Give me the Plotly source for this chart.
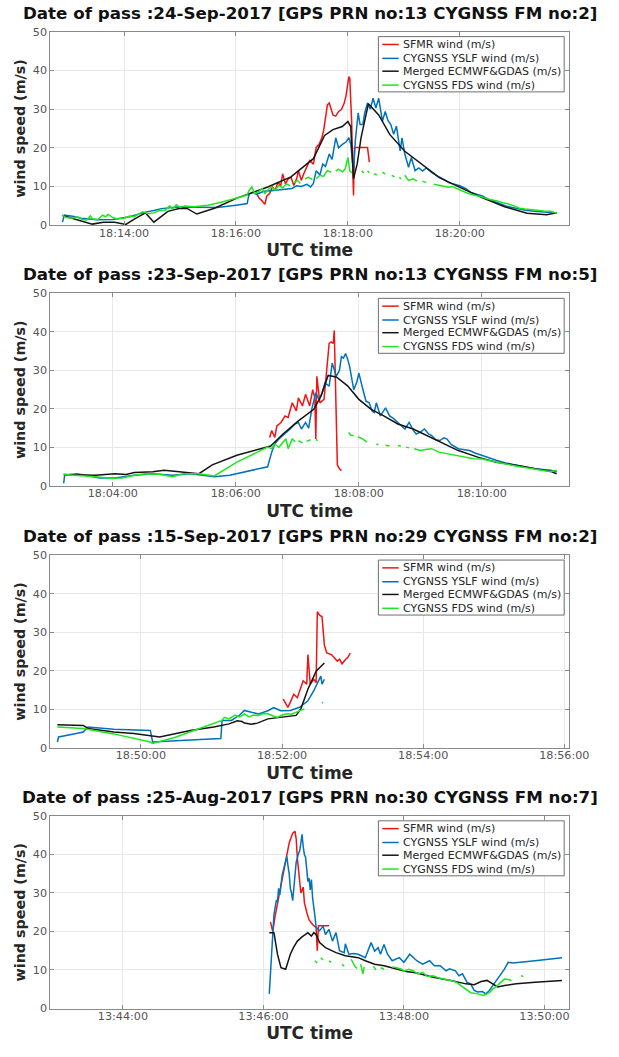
import pandas as pd
import plotly.graph_objects as go

FONT = "DejaVu Sans, Verdana, sans-serif"
RED, BLUE, BLACK, GREEN = "#f01414", "#0072bd", "#141414", "#1ee61e"
SERIES_NAMES = ["SFMR wind (m/s)", "CYGNSS YSLF wind (m/s)",
                "Merged ECMWF&GDAS (m/s)", "CYGNSS FDS wind (m/s)"]
SERIES_COLORS = [RED, BLUE, BLACK, GREEN]

# ---------------- Pass 1: 24-Sep-2017, times in s after 18:12:00 ----------------
p1_base = "2017-09-24 18:12:00"
p1_title = "Date of pass :24-Sep-2017 [GPS PRN no:13 CYGNSS FM no:2]"
p1_xlim = [41, 597]
p1_sfmr_t = [262, 265, 268, 271, 273, 276, 279, 282, 285, 288, 290, 293, 296, 299, 302, 305, 307,
             310, 313, 316, 319, 323, 326, 329, 332, 334, 336, 338, 340, 342, 344, 347, 350, 353,
             356, 358, 360, 361, 362, 363, 364, 365, 366, 367, 381, 383]
p1_sfmr_v = [8.2, 7.0, 6.3, 5.4, 7.5, 8.2, 9.9, 9.0, 11.1, 10.2, 13.3, 10.7, 12.0, 12.4, 10.3, 12.0,
             14.1, 11.6, 13.5, 15.0, 16.7, 15.8, 20.1, 20.9, 22.5, 24.5, 28.5, 31.1, 31.6, 30.0, 28.5,
             28.2, 29.4, 29.9, 31.5, 33.5, 37.0, 38.4, 37.9, 33.0, 26.9, 16.0, 7.7, 20.1, 20.1, 16.3]
p1_yslf_t = [54, 56, 65, 74, 91, 108, 126, 143, 152, 160, 178, 200, 220, 240, 252, 254, 258, 262,
             270, 280, 290, 300, 305, 310, 316, 320, 323, 326, 330, 333, 336, 340, 343, 347, 350,
             354, 358, 361, 363, 365, 366, 368, 371, 373, 376, 378, 381, 384, 387, 390, 393, 397,
             400, 403, 406, 409, 412, 416, 418, 421, 425, 428, 432, 436, 440, 444, 450, 456, 462,
             468, 474, 480, 486, 492, 498, 504, 510, 516, 522, 530, 540, 550, 560, 572, 584]
p1_yslf_v = [0.8, 2.6, 2.3, 1.8, 1.4, 1.5, 2.2, 3.4, 3.8, 4.3, 4.7, 4.6, 4.6, 5.2, 5.6, 8.0, 8.5,
             8.0, 8.8, 9.0, 9.3, 9.5, 10.2, 10.0, 10.6, 9.9, 10.8, 14.1, 13.0, 15.8, 15.2, 18.4,
             17.0, 22.6, 20.0, 20.9, 21.5, 22.6, 21.0, 17.0, 14.0, 22.0, 29.0, 26.0, 26.0, 29.0,
             31.6, 30.0, 32.8, 30.3, 32.8, 26.9, 29.4, 27.0, 26.0, 23.5, 25.6, 19.2, 22.6, 18.4,
             15.0, 17.5, 14.1, 14.8, 14.0, 14.8, 13.6, 12.7, 12.0, 11.0, 10.6, 10.2, 9.5, 8.5, 8.0,
             7.6, 6.8, 6.2, 5.5, 4.9, 4.4, 3.9, 3.6, 3.4, 3.2]
p1_model_t = [54, 69, 86, 98, 110, 122, 131, 143, 152, 167, 180, 188, 198, 217, 241, 274, 299,
              323, 335, 344, 350, 354, 360, 363, 366, 370, 374, 382, 393, 405, 421, 438, 458, 479,
              503, 528, 552, 573, 584]
p1_model_v = [2.5, 1.4, 0.3, 0.8, 0.8, 0.2, 1.6, 3.2, 0.8, 3.6, 4.4, 4.3, 2.9, 4.4, 7.0, 9.9, 12.5,
              17.2, 23.2, 24.7, 25.3, 25.5, 26.8, 25.5, 12.0, 15.9, 22.5, 31.4, 28.5, 23.4, 19.1,
              15.9, 12.3, 9.9, 7.2, 4.8, 3.1, 2.7, 3.2]
p1_fds_t = [54, 58, 64, 70, 75, 80, 84, 86, 92, 97, 100, 103, 108, 113, 120, 126, 131, 136, 140,
            146, 152, 158, 164, 169, 172, 176, 180, 185, 195, 210, 225, 240, 252, 254, 257, 260,
            264, 268, 271, 275, 278, 282, 286, 290, 294, 298, None,
            302, 306, 309, None, 314, 318, 322, None, 326, 330, 334, 338, 342, None,
            347, 350, 354, 357, 360, 362, 364, None, 375, 377, None, 381, 383, None, 388, 391, None,
            397, 400, None, 407, 410, None, 415, 417, None, 421, 425, 430, 434, None, 440, 444, None,
            452, 456, 462, 468, 472, 478, 482, 487, 492, 499, 505, 511, 516, 520, 526, 532, 538,
            544, 550, 556, 562, 570, 577, 584]
p1_fds_v = [2.6, 2.0, 1.8, 2.2, 1.5, 1.4, 2.4, 1.7, 1.5, 2.6, 2.2, 2.8, 2.0, 1.6, 1.8, 2.4, 2.2,
            2.9, 3.5, 3.0, 3.2, 3.8, 3.9, 5.0, 4.2, 5.3, 4.6, 5.0, 4.8, 5.2, 6.0, 7.0, 7.8, 9.0, 9.9,
            8.2, 8.6, 9.5, 8.2, 9.3, 9.9, 9.0, 10.3, 9.6, 10.7, 10.2, None,
            11.0, 11.6, 10.8, None, 12.0, 12.4, 11.8, None, 12.0, 12.9, 12.6, 14.1, 13.7, None,
            14.0, 14.5, 13.8, 14.5, 17.5, 14.1, 13.5, None, 14.1, 13.5, None, 14.0, 13.6, None,
            13.3, 13.0, None, 13.7, 13.2, None, 12.9, 12.5, None, 12.4, 12.0, None, 12.9, 11.6,
            12.0, 11.4, None, 11.4, 11.0, None,
            10.6, 10.4, 10.2, 9.8, 10.0, 9.3, 8.8, 8.4, 8.0, 7.6, 7.2, 6.7, 6.5, 6.3, 5.8, 5.5, 5.0,
            4.4, 4.2, 4.0, 3.9, 3.7, 3.6, 3.1]

# ---------------- Pass 2: 23-Sep-2017, times in s after 18:02:00 ----------------
p2_base = "2017-09-23 18:02:00"
p2_title = "Date of pass :23-Sep-2017 [GPS PRN no:13 CYGNSS FM no:5]"
p2_xlim = [59, 565]
p2_sfmr_t = [273, 275, 278, 280, 284, 288, 291, 295, 299, 301, 305, 308, 312, 315, 317, 318, 319,
             322, 326, 329, 331, 333, 335, 336, 339, 341, 343]
p2_sfmr_v = [12.6, 14.4, 12.6, 15.6, 16.5, 18.2, 17.8, 21.6, 19.5, 22.9, 20.8, 23.8, 20.8, 25.0,
             22.9, 12.2, 28.5, 21.6, 22.5, 30.2, 37.0, 37.4, 37.0, 40.4, 5.5, 4.5, 4.0]
p2_yslf_t = [72, 73, 85, 96, 107, 122, 141, 159, 178, 196, 211, 219, 234, 271, 275, 278, 282, 286,
             290, 293, 297, 301, 304, 308, 311, 314, 318, 321, 324, 327, 331, 334, 338, 341, 343,
             345, 347, 349, 351, 355, 358, 360, 364, 367, 370, 373, 375, 377, 381, 386, 390, 394,
             398, 402, 405, 409, 413, 416, 420, 424, 428, 431, 435, 439, 443, 446, 450, 457, 463,
             468, 474, 480, 487, 494, 503, 513, 522, 532, 540, 547, 553]
p2_yslf_v = [0.7, 2.8, 3.2, 2.6, 2.1, 2.1, 2.8, 3.2, 2.8, 3.2, 2.8, 2.4, 2.8, 5.0, 8.8, 11.0, 12.2,
             13.1, 14.0, 14.8, 16.0, 16.5, 14.8, 16.5, 15.0, 19.9, 24.2, 22.5, 24.0, 26.8, 25.9,
             31.9, 28.5, 30.0, 33.6, 33.2, 34.4, 33.0, 31.0, 25.0, 27.0, 29.3, 25.0, 22.0, 21.6,
             19.5, 19.1, 21.6, 18.2, 20.3, 18.2, 17.5, 16.5, 15.5, 14.8, 16.5, 14.5, 13.5, 14.0,
             14.8, 13.5, 13.1, 12.0, 11.8, 12.5, 12.2, 10.8, 9.7, 9.5, 9.2, 8.5, 7.9, 7.3, 6.7, 6.0,
             5.4, 5.0, 4.5, 4.3, 4.1, 3.7]
p2_model_t = [72, 103, 122, 133, 141, 159, 170, 181, 196, 204, 217, 241, 274, 286, 301, 316, 323,
              330, 338, 349, 360, 372, 383, 398, 413, 420, 439, 457, 476, 494, 513, 532, 547, 553]
p2_model_v = [3.0, 2.8, 3.2, 3.0, 3.5, 3.7, 4.1, 3.8, 3.5, 3.2, 5.5, 8.0, 10.4, 13.5, 16.9, 19.9,
              23.3, 28.7, 28.3, 26.0, 22.5, 19.9, 18.4, 16.1, 14.8, 13.9, 11.4, 9.2, 7.5, 6.2, 5.4,
              4.4, 3.8, 3.2]
p2_fds_t = [72, 85, 103, 118, 129, 141, 152, 167, 178, 189, 204, 219, 241, 271, 275, 278, 282, 286,
            289, 291, 295, 298, None, 301, 305, None, 309, 313, None, 318, 320, None,
            350, 352, 355, None, 359, 364, 368, None, 377, 379, None, 386, 390, None, 398, 401, None,
            406, 409, None, 414, 420, 425, 431, 438, 446, 457, 465, 472, 480, 487, 495, 502, 510,
            517, 525, 532, 540, 547, 553]
p2_fds_v = [3.0, 2.8, 2.4, 2.0, 2.1, 2.8, 3.2, 3.0, 2.4, 3.2, 3.2, 2.6, 6.2, 10.1, 9.7, 10.9, 10.0,
            11.4, 12.2, 9.7, 12.2, 11.5, None, 11.8, 11.2, None, 11.6, 12.0, None, 12.1, 11.8, None,
            13.9, 13.2, 13.1, None, 12.8, 12.2, 11.4, None, 10.9, 10.7, None, 10.6, 10.4, None,
            10.5, 10.3, None, 10.1, 9.9, None, 9.7, 9.2, 9.5, 9.7, 8.8, 8.4, 7.9, 7.6, 7.1, 7.0,
            6.7, 6.2, 5.8, 5.3, 5.0, 4.7, 4.4, 4.0, 3.7, 4.1]

# ---------------- Pass 3: 15-Sep-2017, times in s after 18:48:00 ----------------
p3_base = "2017-09-15 18:48:00"
p3_title = "Date of pass :15-Sep-2017 [GPS PRN no:29 CYGNSS FM no:2]"
p3_xlim = [43, 484]
p3_sfmr_t = [241, 245, 248, 250, 253, 255, 258, 261, 262, 264, 267, 269, 270, 272, 274, 276, 278,
             282, 285, 287, 289, 291, 294, 296, 298]
p3_sfmr_v = [12.6, 10.5, 12.5, 13.9, 13.0, 14.8, 17.4, 16.5, 24.2, 16.5, 17.8, 16.9, 35.3, 34.4,
             34.0, 26.7, 24.6, 24.2, 23.3, 22.5, 23.0, 21.8, 22.9, 23.5, 24.6]
p3_yslf_t = [49, 50, 65, 71, 75, 97, 128, 130, 162, 188, 189, 197, 204, 208, 214, 220, 228, 233,
             239, 247, 255, 262, 267, 273, 274, 276]
p3_yslf_v = [1.5, 2.8, 3.7, 4.1, 5.4, 4.8, 4.5, 1.5, 2.0, 2.4, 7.1, 7.1, 8.5, 9.7, 9.2, 8.8, 9.6,
             10.4, 9.6, 9.7, 10.5, 12.2, 14.8, 18.6, 16.5, 17.8]
p3_model_t = [49, 71, 75, 97, 114, 136, 162, 182, 195, 202, 206, 208, 214, 219, 228, 236, 247, 252,
              256, 262, 269, 276]
p3_model_v = [6.0, 5.8, 5.0, 4.1, 3.7, 2.8, 4.5, 5.4, 6.2, 7.0, 6.8, 6.4, 6.1, 6.4, 7.5, 7.8, 8.1,
              8.4, 10.1, 15.2, 19.9, 22.0]
p3_fds_t = [49, 71, 97, 114, 128, 130, 150, 165, 189, 191, 195, 200, 204, 208, 212, 216, 220, 224,
            228, 232, 236, 240, 244, 248, 252, 256, 259, None, 274, 275]
p3_fds_v = [5.4, 5.0, 3.6, 2.5, 1.5, 1.1, 2.8, 4.5, 7.1, 7.9, 7.5, 8.5, 8.0, 8.8, 8.0, 8.5, 8.4,
            8.9, 8.8, 8.3, 7.9, 8.5, 8.8, 8.7, 9.2, 9.6, 10.1, None, 11.6, 11.8]

# ---------------- Pass 4: 25-Aug-2017, times in s after 13:42:00 ----------------
p4_base = "2017-08-25 13:42:00"
p4_title = "Date of pass :25-Aug-2017 [GPS PRN no:30 CYGNSS FM no:7]"
p4_xlim = [58, 501.5]
p4_sfmr_t = [246, 248, 250, 253, 256, 259, 262, 265, 267, 268, 269, 271, 272, 274, 275, 277, 279,
             282, 285, 286, 287, 296]
p4_sfmr_v = [22.5, 20.0, 24.0, 29.0, 34.0, 38.0, 43.0, 45.5, 46.0, 44.0, 39.0, 33.0, 30.0, 31.5,
             27.5, 25.0, 23.0, 21.8, 21.0, 15.0, 21.5, 21.5]
p4_yslf_t = [245, 247, 248, 249, 251, 252, 253, 254, 256, 258, 259, 260, 261, 262, 263, 264, 265,
             266, 268, 270, 271, 272, 273, 274, 275, 276, 277, 278, 279, 280, 281, 282, 284, 285,
             288, 291, 293, 296, 299, 302, 305, 309, 310, 313, 317, 321, 327, 332, 335, 338, 340,
             343, 346, 350, 356, 360, 365, 371, 376, 382, 386, 391, 396, 399, 404, 407, 410, 414,
             417, 420, 423, 427, 430, 433, 436, 441, 446, 449, 453, 472, 495]
p4_yslf_v = [3.8, 13.2, 20.0, 24.4, 28.0, 27.8, 31.2, 29.5, 34.6, 37.0, 38.9, 39.5, 37.0, 35.0,
             31.2, 30.0, 28.0, 30.8, 38.0, 40.2, 41.0, 43.0, 45.2, 42.0, 40.0, 39.3, 36.0, 33.0,
             33.8, 30.8, 33.5, 28.7, 24.0, 21.1, 20.2, 21.4, 19.2, 20.5, 17.5, 19.7, 15.0, 14.5,
             16.8, 14.1, 14.3, 14.1, 13.2, 17.1, 14.9, 15.8, 14.1, 16.6, 14.1, 12.4, 13.2, 12.0,
             14.1, 12.4, 11.5, 12.4, 11.1, 11.1, 9.8, 10.3, 9.8, 8.5, 9.0, 6.8, 6.4, 4.7, 4.3, 4.4,
             3.8, 4.7, 6.0, 8.1, 10.3, 12.0, 11.8, 12.4, 13.2]
p4_model_t = [245, 249, 252, 255, 259, 263, 266, 269, 273, 276, 278, 281, 283, 285, 288, 293, 302,
              310, 321, 327, 335, 343, 354, 362, 371, 385, 400, 413, 420, 426, 431, 436, 440, 446,
              456, 472, 495]
p4_model_v = [19.7, 19.7, 14.1, 10.6, 10.2, 14.1, 16.0, 17.5, 18.6, 19.2, 19.7, 18.8, 19.7, 19.2,
              17.1, 15.8, 14.5, 13.7, 13.2, 12.4, 11.5, 11.1, 10.2, 9.6, 9.2, 8.1, 7.3, 6.4, 6.2,
              7.0, 7.3, 6.4, 5.6, 6.0, 6.4, 6.8, 7.3]
p4_fds_t = [284, 286, None, 289, 291, None, 296, 298, None, 307, 309, None, 315, 318, 320, None,
            323, 325, 326, None, 334, 336, None, 340, 343, None, 350, 354, 358, 360, 364, 368, 372,
            376, 380, 385, 390, 394, 400, 405, 410, 414, 417, 423, 428, 433, 436, 440, 446, 452,
            None, 460, 462]
p4_fds_v = [12.4, 11.8, None, 13.2, 12.6, None, 12.4, 12.0, None, 11.5, 11.0, None, 12.8, 11.0,
            10.4, None, 11.5, 9.0, 10.8, None, 11.0, 10.0, None, 10.6, 10.2, None, 10.8, 10.6, 10.2,
            9.7, 10.2, 9.8, 9.0, 9.4, 8.3, 8.5, 7.9, 7.7, 7.3, 6.8, 5.6, 4.8, 4.1, 3.8, 3.4, 4.1,
            5.1, 6.0, 7.7, 7.3, None, 8.5, 8.3]

# axis ticks
y_ticks = [0, 10, 20, 30, 40, 50]
x_tick_step_ms = 120000

passes = [
    (p1_base, p1_title, p1_xlim, [(p1_sfmr_t, p1_sfmr_v), (p1_yslf_t, p1_yslf_v),
                                  (p1_model_t, p1_model_v), (p1_fds_t, p1_fds_v)]),
    (p2_base, p2_title, p2_xlim, [(p2_sfmr_t, p2_sfmr_v), (p2_yslf_t, p2_yslf_v),
                                  (p2_model_t, p2_model_v), (p2_fds_t, p2_fds_v)]),
    (p3_base, p3_title, p3_xlim, [(p3_sfmr_t, p3_sfmr_v), (p3_yslf_t, p3_yslf_v),
                                  (p3_model_t, p3_model_v), (p3_fds_t, p3_fds_v)]),
    (p4_base, p4_title, p4_xlim, [(p4_sfmr_t, p4_sfmr_v), (p4_yslf_t, p4_yslf_v),
                                  (p4_model_t, p4_model_v), (p4_fds_t, p4_fds_v)]),
]


def stamp(base, secs):
    t0 = pd.Timestamp(base)
    return [None if s is None else (t0 + pd.Timedelta(seconds=s)).strftime("%Y-%m-%d %H:%M:%S")
            for s in secs]


W, H = 619, 1057
x_dom = [52 / W, 588 / W]
panel_px = [(26, 222), (291, 486), (556, 751), (820, 1015)]

fig = go.Figure()
layout = dict(
    width=W, height=H, autosize=False, margin=dict(l=0, r=0, t=0, b=0, pad=0),
    paper_bgcolor="white", plot_bgcolor="white", showlegend=False,
    font=dict(family=FONT, color="#262626"),
)
shapes, annotations = [], []

# legend geometry inside each axes (fractions of the axes box)
leg_box = dict(x0=0.6325, x1=0.9907, y0=0.689, y1=0.9745)
leg_rows = [0.934, 0.862, 0.796, 0.724]

for k, (base, title, xlim, series) in enumerate(passes):
    n = "" if k == 0 else str(k + 1)
    xa, ya = "x" + n, "y" + n
    top, bot = panel_px[k]
    for (ts, vs), name, color in zip(series, SERIES_NAMES, SERIES_COLORS):
        fig.add_trace(go.Scatter(
            x=stamp(base, ts), y=vs, mode="lines", name=name,
            line=dict(color=color, width=1.5), xaxis=xa, yaxis=ya,
        ))
    t0 = pd.Timestamp(base)
    rng = [(t0 + pd.Timedelta(seconds=s)).strftime("%Y-%m-%d %H:%M:%S") for s in xlim]
    common = dict(showline=True, linecolor="#8a8a8a", linewidth=1, mirror="ticks",
                  ticks="inside", ticklen=4, tickcolor="#8a8a8a",
                  showgrid=True, gridcolor="#e8e8e8", gridwidth=1, zeroline=False,
                  tickfont=dict(family=FONT, size=11.2, color="#555555"))
    layout["xaxis" + n] = dict(
        common, domain=x_dom, anchor=ya, type="date", range=rng, ticklabelstandoff=-3,
        tick0=t0.strftime("%Y-%m-%d 00:00:00"), dtick=x_tick_step_ms, tickformat="%H:%M:%S",
        title=dict(text="<b>UTC time</b>", standoff=5,
                   font=dict(family=FONT, size=17, color="#262626")),
    )
    layout["yaxis" + n] = dict(
        common, domain=[1 - bot / H, 1 - top / H], anchor=xa, range=[0, 50],
        tickvals=y_ticks,
        title=dict(text="<b>wind speed (m/s)</b>", standoff=3,
                   font=dict(family=FONT, size=14.3, color="#262626")),
    )
    dref_x, dref_y = xa + " domain", ya + " domain"
    annotations.append(dict(
        text="<b>" + title + "</b>", x=0.5, y=1, xref=dref_x, yref=dref_y,
        xanchor="center", yanchor="bottom", yshift=7, showarrow=False,
        font=dict(family=FONT, size=16.7, color="#111111"),
    ))
    # legend frame
    shapes.append(dict(type="rect", xref=dref_x, yref=dref_y, **leg_box,
                       line=dict(color="#6f6f6f", width=1), fillcolor="white", layer="above"))
    for row, name, color in zip(leg_rows, SERIES_NAMES, SERIES_COLORS):
        shapes.append(dict(type="line", xref=dref_x, yref=dref_y, x0=0.640, x1=0.6716,
                           y0=row, y1=row, line=dict(color=color, width=1.5), layer="above"))
        annotations.append(dict(
            text=name, x=0.676, y=row, xref=dref_x, yref=dref_y, xanchor="left",
            yanchor="middle", showarrow=False, font=dict(family=FONT, size=11, color="#262626"),
        ))

layout["shapes"] = shapes
layout["annotations"] = annotations
fig.update_layout(**layout)
fig.write_html(
    "out.html",
    config={"responsive": False},
    post_script="document.body.style.margin='0';document.body.style.overflow='hidden';",
)
